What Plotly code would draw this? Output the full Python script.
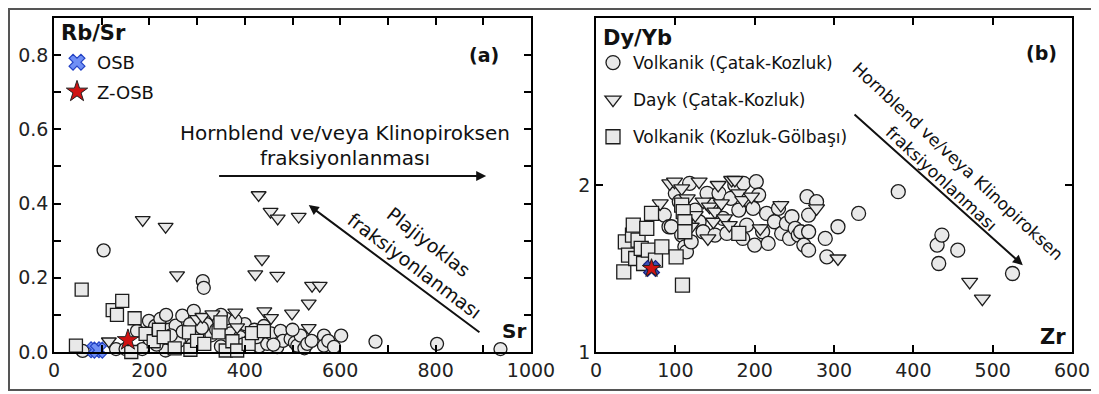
import plotly.graph_objects as go

# ---- left panel (a): Sr vs Rb/Sr ----
lc_sr = [60, 104, 130, 150, 174, 185, 199, 212, 223, 234, 240, 255, 262, 269, 293, 300, 312, 314, 320, 330,
         340, 350, 360, 370, 390, 400, 410, 420, 430, 447, 455, 468, 475, 480, 496, 505, 510, 517, 525, 531,
         566, 566, 575, 587, 602, 674, 803, 936, 215, 245, 285, 350, 290, 380, 440, 460, 500, 200, 235, 270,
         310, 395, 425, 540]
lc_rbsr = [0.003, 0.274, 0.008, 0.008, 0.057, 0.008, 0.084, 0.07, 0.089, 0.004, 0.06, 0.071, 0.03, 0.098, 0.111,
           0.04, 0.191, 0.173, 0.075, 0.045, 0.06, 0.015, 0.09, 0.05, 0.04, 0.075, 0.03, 0.06, 0.015, 0.022,
           0.05, 0.013, 0.057, 0.03, 0.035, 0.025, 0.017, 0.044, 0.01, 0.022, 0.044, 0.017, 0.03, 0.014, 0.044,
           0.028, 0.022, 0.008, 0.02, 0.045, 0.075, 0.1, 0.02, 0.085, 0.07, 0.02, 0.06, 0.035, 0.1, 0.055,
           0.065, 0.02, 0.04, 0.03]

lt_sr = [115, 186, 234, 258, 300, 311, 332, 380, 384, 422, 429, 436, 441, 454, 455, 468, 469, 499, 513, 534,
         534, 541, 557]
lt_rbsr = [0.029, 0.356, 0.338, 0.207, 0.089, 0.095, 0.102, 0.107, 0.067, 0.21, 0.423, 0.25, 0.11, 0.378, 0.092,
           0.206, 0.36, 0.104, 0.365, 0.131, 0.065, 0.179, 0.179]

ls_sr = [46, 58, 123, 132, 143, 169, 162, 192, 209, 220, 230, 253, 283, 286, 300, 315, 345, 349, 360, 374,
         384, 408, 415, 440]
ls_rbsr = [0.017, 0.168, 0.113, 0.1, 0.138, 0.091, 0.0, 0.049, 0.029, 0.06, 0.04, 0.01, 0.053, 0.006, 0.03,
           0.022, 0.053, 0.08, 0.004, 0.029, 0.004, 0.022, 0.051, 0.056]

osb_sr = [86, 93]
osb_rbsr = [0.006, 0.005]
zosb_sr = [155]
zosb_rbsr = [0.032]

# ---- right panel (b): Zr vs Dy/Yb ----
rc_zr = [86, 92, 95, 100, 105, 108, 112, 114, 118, 120, 125, 130, 135, 140, 145, 150, 155, 160, 165, 170,
         175, 180, 185, 186, 190, 195, 198, 200, 202, 205, 210, 215, 217, 225, 230, 234, 240, 244, 247, 251,
         255, 258, 262, 266, 268, 268, 268, 278, 289, 291, 305, 331, 381, 430, 432, 436, 456, 525]
rc_dy = [1.82, 1.75, 1.75, 1.95, 1.90, 1.70, 1.63, 1.60, 2.01, 1.66, 1.85, 1.78, 1.72, 1.95, 1.88, 1.70, 1.95,
         1.80, 1.71, 1.92, 2.00, 1.85, 1.68, 2.01, 1.76, 1.90, 1.86, 1.64, 2.02, 1.94, 1.72, 1.83, 1.65, 1.78,
         1.86, 1.71, 1.77, 1.68, 1.81, 1.74, 1.70, 1.72, 1.64, 1.93, 1.82, 1.61, 1.72, 1.90, 1.68, 1.57, 1.75,
         1.83, 1.96, 1.64, 1.53, 1.70, 1.61, 1.47]

rt_zr = [81, 93, 99, 108, 115, 120, 125, 130, 135, 141, 143, 148, 150, 154, 158, 162, 168, 171, 175, 180,
         185, 196, 207, 233, 278, 305, 471, 487]
rt_dy = [1.89, 2.01, 2.02, 1.98, 1.92, 1.75, 1.82, 2.02, 1.90, 1.68, 1.87, 1.78, 1.84, 2.00, 1.89, 1.80, 1.76,
         2.03, 2.03, 1.95, 1.91, 1.93, 1.74, 1.88, 1.86, 1.56, 1.42, 1.32]

rs_zr = [35, 37, 41, 46, 47, 50, 53, 57, 60, 64, 66, 70, 75, 83, 101, 108, 109, 110, 112, 112, 180]
rs_dy = [1.48, 1.66, 1.58, 1.70, 1.76, 1.56, 1.67, 1.62, 1.53, 1.74, 1.61, 1.83, 1.55, 1.63, 1.57, 1.88, 1.40,
         1.84, 1.78, 1.72, 1.71]

osb_zr = [70]
osb_dy = [1.50]
zosb_zr = [70]
zosb_dy = [1.50]

FONT = "DejaVu Sans"
FILL = "#e9e9e9"
EDGE = "#1c1c1c"

# the page body keeps its default 8px margin, so the figure is sized to fit inside it
W, H = 1091, 386

fig = go.Figure()


def grey(x, y, symbol, name, xa, ya, show, size):
    fig.add_trace(go.Scatter(
        x=x, y=y, mode="markers", name=name, xaxis=xa, yaxis=ya,
        showlegend=show, legend="legend", legendgroup=name,
        cliponaxis=False,
        marker=dict(symbol=symbol, size=size, color=FILL, line=dict(color=EDGE, width=1.3)),
    ))


# left panel marks
grey(lc_sr, lc_rbsr, "circle", "Volkanik (Çatak-Kozluk)", "x", "y", False, 13)
grey(lt_sr, lt_rbsr, "triangle-down", "Dayk (Çatak-Kozluk)", "x", "y", False, 13)
grey(ls_sr, ls_rbsr, "square", "Volkanik (Kozluk-Gölbaşı)", "x", "y", False, 13)

# right panel marks (these carry the right-hand legend)
grey(rc_zr, rc_dy, "circle", "Volkanik (Çatak-Kozluk)", "x2", "y2", True, 14)
grey(rt_zr, rt_dy, "triangle-down", "Dayk (Çatak-Kozluk)", "x2", "y2", True, 14)
grey(rs_zr, rs_dy, "square", "Volkanik (Kozluk-Gölbaşı)", "x2", "y2", True, 14)

osb_marker = dict(symbol="x", size=14, color="#6f8ff5", line=dict(color="#2342c4", width=1.2))
star_marker = dict(symbol="star", size=16, color="#d01212", line=dict(color="#222222", width=1))

fig.add_trace(go.Scatter(x=osb_sr, y=osb_rbsr, mode="markers", name="OSB", xaxis="x", yaxis="y",
                         legend="legend2", legendgroup="osb", cliponaxis=False, marker=osb_marker))
fig.add_trace(go.Scatter(x=zosb_sr, y=zosb_rbsr, mode="markers", name="Z-OSB", xaxis="x", yaxis="y",
                         legend="legend2", legendgroup="zosb", cliponaxis=False, marker=star_marker))
fig.add_trace(go.Scatter(x=osb_zr, y=osb_dy, mode="markers", name="OSB", xaxis="x2", yaxis="y2",
                         showlegend=False, cliponaxis=False,
                         marker=dict(osb_marker, color="#3b4fb8", line=dict(color="#1a237e", width=1.2))))
fig.add_trace(go.Scatter(x=zosb_zr, y=zosb_dy, mode="markers", name="Z-OSB", xaxis="x2", yaxis="y2",
                         showlegend=False, cliponaxis=False, marker=dict(star_marker, size=14)))

axis_common = dict(
    showline=True, linecolor="black", linewidth=1.5, mirror="allticks",
    ticks="inside", ticklen=7, tickwidth=1.5, tickcolor="black",
    showgrid=False, zeroline=False, automargin=False,
    tickfont=dict(family=FONT, size=19, color="#222"),
)

x1_vals = list(range(0, 1001, 100))
x1_text = [str(v) if v % 200 == 0 else "" for v in x1_vals]
y1_vals = [round(i * 0.1, 1) for i in range(0, 9)]
y1_text = [f"{v:.1f}" if i % 2 == 0 else "" for i, v in enumerate(y1_vals)]

ydom = [1 - 344 / H, 1 - 10 / H]

fig.update_layout(
    width=W, height=H,
    margin=dict(l=0, r=0, t=0, b=0, autoexpand=False),
    paper_bgcolor="white", plot_bgcolor="white",
    font=dict(family=FONT, color="#111"),
    xaxis=dict(axis_common, domain=[46 / W, 523 / W], range=[0, 1000],
               tickvals=x1_vals, ticktext=x1_text),
    yaxis=dict(axis_common, domain=ydom, range=[0, 0.9],
               tickvals=y1_vals, ticktext=y1_text),
    xaxis2=dict(axis_common, domain=[588 / W, 1064 / W], range=[0, 600], anchor="y2",
                tickvals=list(range(0, 601, 100))),
    yaxis2=dict(axis_common, domain=ydom, range=[1, 3], anchor="x2",
                tickvals=[1, 2, 3]),
    legend=dict(x=585 / W, y=1 - 37 / H, xanchor="left", yanchor="top", bgcolor="rgba(0,0,0,0)",
                font=dict(family=FONT, size=17, color="#111"), tracegroupgap=12,
                itemsizing="trace"),
    legend2=dict(x=49 / W, y=1 - 36 / H, xanchor="left", yanchor="top", bgcolor="rgba(0,0,0,0)",
                 font=dict(family=FONT, size=18, color="#111"), tracegroupgap=3,
                 itemsizing="trace"),
    shapes=[dict(type="rect", xref="paper", yref="paper", x0=1 / W, x1=1087 / W,
                 y0=1 - 382 / H, y1=1 - 1 / H, line=dict(color="#555", width=2))],
)

bold = dict(family=FONT, size=21, color="#111")
txt = dict(family=FONT, size=20, color="#111")
tilt_l = dict(family=FONT, size=19, color="#111")
tilt_r = dict(family=FONT, size=17, color="#111")
ann = [
    # left panel labels
    dict(x=11, y=0.859, xref="x", yref="y", text="<b>Rb/Sr</b>", xanchor="left", showarrow=False, font=bold),
    dict(x=901, y=0.80, xref="x", yref="y", text="<b>(a)</b>", showarrow=False, font=dict(bold, size=19)),
    dict(x=964, y=0.057, xref="x", yref="y", text="<b>Sr</b>", showarrow=False, font=dict(bold, size=20)),
    dict(x=611, y=0.591, xref="x", yref="y", text="Hornblend ve/veya Klinopiroksen", showarrow=False, font=txt),
    dict(x=611, y=0.522, xref="x", yref="y", text="fraksiyonlanması", showarrow=False, font=txt),
    dict(x=906, y=0.474, ax=343, ay=0.474, xref="x", yref="y", axref="x", ayref="y", text="",
         showarrow=True, arrowhead=2, arrowsize=1, arrowwidth=2, arrowcolor="#111"),
    dict(x=534, y=0.396, ax=895, ay=0.05, xref="x", yref="y", axref="x", ayref="y", text="",
         showarrow=True, arrowhead=2, arrowsize=1, arrowwidth=2, arrowcolor="#111"),
    dict(x=786, y=0.297, xref="x", yref="y", text="Plajiyoklas", textangle=38, showarrow=False, font=tilt_l),
    dict(x=757, y=0.2325, xref="x", yref="y", text="fraksiyonlanması", textangle=37, showarrow=False,
         font=tilt_l),
    # right panel labels
    dict(x=6, y=2.88, xref="x2", yref="y2", text="<b>Dy/Yb</b>", xanchor="left", showarrow=False, font=bold),
    dict(x=562, y=2.79, xref="x2", yref="y2", text="<b>(b)</b>", showarrow=False, font=dict(bold, size=19)),
    dict(x=576, y=1.09, xref="x2", yref="y2", text="<b>Zr</b>", showarrow=False, font=bold),
    dict(x=538, y=1.52, ax=324, ay=2.43, xref="x2", yref="y2", axref="x2", ayref="y2", text="",
         showarrow=True, arrowhead=2, arrowsize=1, arrowwidth=2, arrowcolor="#111"),
    dict(x=456, y=2.146, xref="x2", yref="y2", text="Hornblend ve/veya Klinopiroksen", textangle=43,
         showarrow=False, font=tilt_r),
    dict(x=436, y=2.036, xref="x2", yref="y2", text="fraksiyonlanması", textangle=43,
         showarrow=False, font=tilt_r),
]
fig.update_layout(annotations=ann)

fig.write_html("out.html")
